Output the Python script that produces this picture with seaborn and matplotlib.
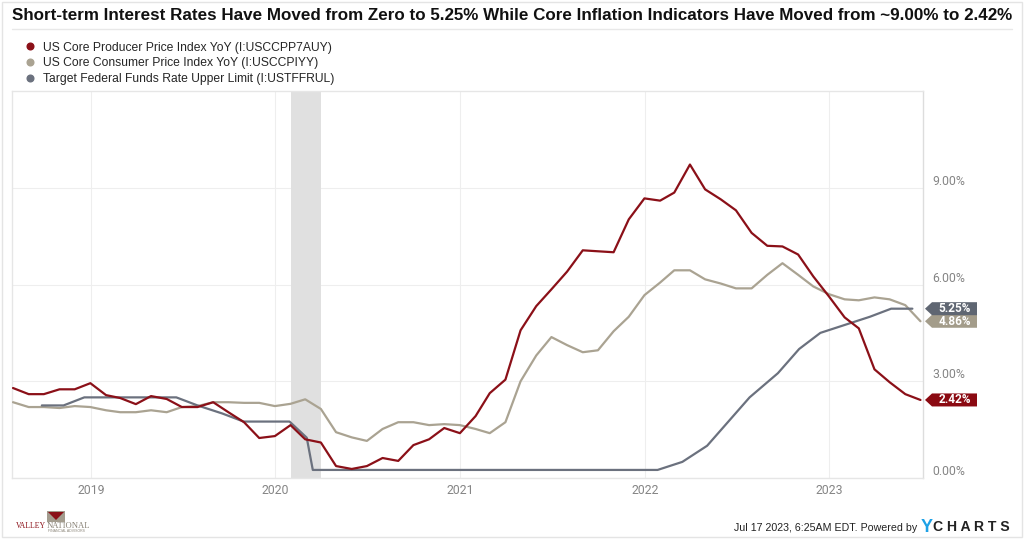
import numpy as np
import pandas as pd
import matplotlib
matplotlib.use("Agg")
import matplotlib.pyplot as plt
import matplotlib.transforms as mtransforms
from matplotlib.lines import Line2D
from matplotlib.patches import Rectangle, Polygon
import seaborn as sns

# 数据 (月末)
months = pd.date_range("2018-07-31", periods=60, freq="ME")
ppi = [2.79, 2.60, 2.60, 2.75, 2.75, 2.94,
       2.57, 2.48, 2.29, 2.54, 2.45, 2.20, 2.20, 2.35, 2.04, 1.73, 1.24, 1.30,
       1.64, 1.20, 1.10, 0.37, 0.28, 0.37, 0.62, 0.53, 1.02, 1.20, 1.55, 1.39,
       1.92, 2.63, 3.05, 4.58, 5.33, 5.85, 6.40, 7.06, 7.03, 7.00, 8.02, 8.67,
       8.60, 8.85, 9.72, 8.95, 8.64, 8.30, 7.60, 7.20, 7.18, 6.93, 6.25, 5.63,
       4.98, 4.64, 3.37, 2.97, 2.60, 2.42]
cpi = [2.35, 2.20, 2.20, 2.17, 2.23, 2.20,
       2.10, 2.04, 2.04, 2.10, 2.04, 2.20, 2.23, 2.35, 2.35, 2.33, 2.33, 2.23,
       2.30, 2.44, 2.14, 1.42, 1.26, 1.15, 1.52, 1.73, 1.73, 1.64, 1.67, 1.64,
       1.52, 1.39, 1.73, 3.00, 3.80, 4.37, 4.12, 3.90, 3.96, 4.55, 5.00, 5.67,
       6.06, 6.44, 6.44, 6.16, 6.03, 5.88, 5.88, 6.30, 6.66, 6.30, 5.94, 5.70,
       5.54, 5.51, 5.60, 5.54, 5.36, 4.86]

# 联邦基金利率上限 (FOMC 会议日期)
fed_dates = ["2018-09-26", "2018-11-08", "2018-12-19",
             "2019-01-30", "2019-03-20", "2019-05-01", "2019-06-19", "2019-07-31",
             "2019-09-18", "2019-10-30", "2019-12-11",
             "2020-01-29", "2020-03-03", "2020-03-15", "2020-04-29", "2020-06-10",
             "2020-07-29", "2020-09-16", "2020-11-05", "2020-12-16",
             "2021-01-27", "2021-03-17", "2021-04-28", "2021-06-16", "2021-07-28",
             "2021-09-22", "2021-11-03", "2021-12-15",
             "2022-01-26", "2022-03-16", "2022-05-04", "2022-06-15", "2022-07-27",
             "2022-09-21", "2022-11-02", "2022-12-14",
             "2023-02-01", "2023-03-22", "2023-05-03", "2023-06-14"]
fed = [2.25, 2.25, 2.50,
       2.50, 2.50, 2.50, 2.50, 2.25, 2.00, 1.75, 1.75,
       1.75, 1.25, 0.25, 0.25, 0.25, 0.25, 0.25, 0.25, 0.25,
       0.25, 0.25, 0.25, 0.25, 0.25, 0.25, 0.25, 0.25,
       0.25, 0.50, 1.00, 1.75, 2.50, 3.25, 4.00, 4.50,
       4.75, 5.00, 5.25, 5.25]

series_names = ["US Core Producer Price Index YoY (I:USCCPP7AUY)",
                "US Core Consumer Price Index YoY (I:USCCPIYY)",
                "Target Federal Funds Rate Upper Limit (I:USTFFRUL)"]
series_colors = ["#8b1018", "#aaa392", "#6b717e"]
tag_colors = ["#8b0a12", "#a39c8a", "#5f6672"]
recession = ("2020-02-01", "2020-04-01")
y_ticks = [0, 3, 6, 9]
year_ticks = ["2019", "2020", "2021", "2022", "2023"]

title = ("Short-term Interest Rates Have Moved from Zero to 5.25% While Core "
         "Inflation Indicators Have Moved from ~9.00% to 2.42%")

sns.set_theme(style="white")
plt.rcParams["font.family"] = ["Liberation Sans", "DejaVu Sans"]

df_infl = pd.DataFrame({"date": months, "ppi": ppi, "cpi": cpi})
df_fed = pd.DataFrame({"date": pd.to_datetime(fed_dates), "fed": fed})

fig = plt.figure(figsize=(10.24, 5.39), dpi=100)
ax = fig.add_axes([12 / 1024, 61 / 539, 911 / 1024, 387 / 539])

ax.axvspan(pd.Timestamp(recession[0]), pd.Timestamp(recession[1]),
           color="#e0e0e0", lw=0, zorder=1)

sns.lineplot(data=df_infl, x="date", y="ppi", ax=ax, color=series_colors[0],
             lw=1.6, zorder=4)
sns.lineplot(data=df_infl, x="date", y="cpi", ax=ax, color=series_colors[1],
             lw=1.6, zorder=3)
sns.lineplot(data=df_fed, x="date", y="fed", ax=ax, color=series_colors[2],
             lw=1.6, zorder=3)

ax.set_xlim(pd.Timestamp("2018-07-29"), pd.Timestamp("2023-07-05"))
ax.set_ylim(0, 12)
ax.set_xlabel("")
ax.set_ylabel("")

ax.set_xticks([pd.Timestamp(y + "-01-01") for y in year_ticks])
ax.set_xticklabels(year_ticks)
ax.yaxis.tick_right()
ax.set_yticks(y_ticks)
ax.set_yticklabels([f"{v:.2f}%" for v in y_ticks])
for lab in ax.get_yticklabels():
    lab.set_va("bottom")
ax.tick_params(axis="both", length=0, labelsize=8.8, labelcolor="#858585")
ax.tick_params(axis="y", pad=7)
ax.tick_params(axis="x", pad=4)
for lab in ax.get_xticklabels() + ax.get_yticklabels():
    lab.set_family(["Roboto", "DejaVu Sans"])

ax.grid(True, color="#eeeeee", lw=0.8, zorder=0)
ax.set_axisbelow(True)
for s in ax.spines.values():
    s.set_color("#e6e6e6")
    s.set_linewidth(1.0)
ax.spines["right"].set_color("#dddddd")

# 右侧数值标签 (箭头形标签, 尺寸按像素/英寸)
trans = mtransforms.blended_transform_factory(ax.transAxes, ax.transData)
tag_shape = np.array([[2, 0], [9, 6.5], [54, 6.5], [54, -6.5], [9, -6.5]]) / 100
for val, col in zip([ppi[-1], cpi[-1], fed[-1]], tag_colors):
    off = fig.dpi_scale_trans + mtransforms.ScaledTranslation(1.0, val, trans)
    ax.add_patch(Polygon(tag_shape, closed=True, fc=col, ec="none",
                         transform=off, clip_on=False, zorder=6))
    ax.text(0.315, 0, f"{val:.2f}%", transform=off, ha="center",
            va="center", color="white", fontsize=8.5, fontweight="bold",
            family=["Roboto", "DejaVu Sans"], clip_on=False, zorder=7)

# 标题与分隔线
fig.text(12 / 1024, 1 - 16 / 539, title, fontsize=12.25, fontweight="bold",
         color="#111111", va="center", ha="left")
fig.add_artist(Line2D([12 / 1024, 1012 / 1024], [1 - 29 / 539, 1 - 29 / 539],
                      color="#e8e8e8", lw=1.0, transform=fig.transFigure))

# 图例
handles = [Line2D([0], [0], marker="o", ls="", color=c, markersize=4.8)
           for c in series_colors]
fig.legend(handles, series_names, loc="upper left",
           bbox_to_anchor=(24 / 1024, 1 - 41.5 / 539), frameon=False,
           fontsize=8.75, handletextpad=0.55, labelspacing=0.3,
           borderaxespad=0, borderpad=0, handlelength=1.0)

# 页脚
fig.text(917 / 1024, 1 - 528 / 539, "Jul 17 2023, 6:25AM EDT. Powered by",
         fontsize=7.7, ha="right", va="center", color="#222222",
         family=["Liberation Sans Narrow", "Liberation Sans", "DejaVu Sans"])
fig.text(921 / 1024, 1 - 527 / 539, "Y", fontsize=13, fontweight="bold",
         color="#1ea1e6", ha="left", va="center")
fig.text(933 / 1024, 1 - 527 / 539, "C H A R T S", fontsize=10.1,
         fontweight="bold", color="#222222", ha="left", va="center")

# Valley National 标志
fig.add_artist(Rectangle((47 / 1024, 1 - 522 / 539), 18 / 1024, 11 / 539,
                         transform=fig.transFigure, fc="#a39c8e", ec="none"))
fig.add_artist(Polygon([(48 / 1024, 1 - 512 / 539), (64 / 1024, 1 - 512 / 539),
                        (56 / 1024, 1 - 520 / 539)], closed=True,
                       transform=fig.transFigure, fc="#8b1018", ec="none"))
fig.text(16 / 1024, 1 - 526 / 539, "VALLEY", fontsize=5.6, color="#8b1018",
         family=["Liberation Serif", "DejaVu Serif"], va="center", ha="left")
fig.text(47 / 1024, 1 - 526 / 539, "NATIONAL", fontsize=6.2, color="#8a8478",
         family=["Liberation Serif", "DejaVu Serif"], va="center", ha="left")
fig.text(48 / 1024, 1 - 531 / 539, "FINANCIAL ADVISORS", fontsize=2.5,
         color="#8a8478", va="center", ha="left")

# 外框
fig.add_artist(Rectangle((0.002, 0.003), 0.996, 0.994, transform=fig.transFigure,
                         fc="none", ec="#e4e4e4", lw=1.0))

fig.savefig("out.png", dpi=100)
plt.close(fig)
